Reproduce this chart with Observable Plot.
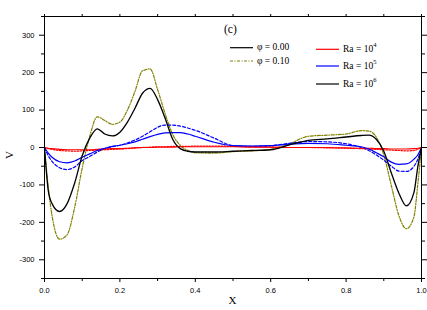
<!DOCTYPE html>
<html>
<head>
<meta charset="utf-8">
<script src="https://cdn.jsdelivr.net/npm/d3@7"></script>
<script src="https://cdn.jsdelivr.net/npm/@observablehq/plot@0.6"></script>
<style>
  body { margin: 0; background: white; }
  #wrap { position: relative; width: 427px; height: 310px; overflow: hidden; background: white; }
  #wrap > svg.overlay { position: absolute; left: 0; top: 0; }
</style>
</head>
<body>
<div id="wrap"></div>
<script>
// X positions (shared by all series)
const xs = [0,0.01,0.02,0.04,0.06,0.08,0.1,0.12,0.14,0.16,0.18,0.2,0.22,0.24,0.26,0.28,0.3,0.32,0.34,0.36,0.38,0.4,0.45,0.5,0.55,0.6,0.65,0.7,0.75,0.8,0.84,0.86,0.88,0.9,0.92,0.94,0.96,0.98,0.99,1];

// V values
const ra6phi0 = [0,-115,-150,-171,-150,-95,-22,25,50,36,31,41,68,105,145,158,128,78,22,-3,-10,-12,-12,-10,-8,-6,7,19,23,28,32,33,22,-10,-68,-122,-156,-120,-53,0];
const ra6phi1 = [0,-106,-182,-245,-233,-160,-55,30,82,72,62,68,100,150,205,210,155,90,35,6,-8,-14,-15,-11,-9,-5,10,30,33,36,45,44,28,-20,-102,-182,-217,-185,-100,0];
const ra5phi0 = [0,-15,-26,-38,-41,-36,-26,-17,-8,-2,3,6,10,15,22,29,35,39,40,40,36,30,14,5,4,5,9,11,10,6,2,-4,-14,-25,-39,-45,-44,-31,-20,0];
const ra5phi1 = [0,-22,-37,-54,-59,-52,-35,-24,-12,-3,2,6,12,20,30,42,54,60,60,57,52,46,25,5,3,5,11,16,15,10,0,-8,-20,-34,-50,-63,-64,-50,-32,0];
const ra4phi0 = [0,-2,-3,-5,-6,-6,-6,-6,-5,-4,-3,-3,-2,-1,0,0,1,1,1,2,2,2,2,2,1,1,0,0,0,-1,-2,-2,-3,-3,-4,-4,-4,-3,-2,0];
const ra4phi1 = [0,-3,-5,-8,-9,-10,-9,-8,-7,-6,-5,-4,-3,-1,0,1,2,2,3,3,3,4,4,3,2,1,0,0,-1,-2,-3,-4,-5,-6,-7,-8,-9,-8,-5,0];

// Tick values
const yMajor = [-300,-200,-100,0,100,200,300];
const yMinor = [-350,-250,-150,-50,50,150,250,350];
const xMajor = [0,0.2,0.4,0.6,0.8,1.0];
const xMinor = [0.1,0.3,0.5,0.7,0.9];
const xAll = [0,0.1,0.2,0.3,0.4,0.5,0.6,0.7,0.8,0.9,1.0];

const series = [
  {v: ra6phi1, stroke: "#808000", dash: "3,1.5,1,1.5", width: 1.2},
  {v: ra5phi1, stroke: "#0000ff", dash: "3,2", width: 1.2},
  {v: ra4phi1, stroke: "#ff0000", dash: "1.5,1.5", width: 1.2},
  {v: ra4phi0, stroke: "#ff0000", dash: null, width: 1.2},
  {v: ra5phi0, stroke: "#0000ff", dash: null, width: 1.2},
  {v: ra6phi0, stroke: "#000000", dash: null, width: 1.3}
];

const lineMarks = series.map(s => Plot.line(xs.map((x, i) => ({x, y: s.v[i]})), {
  x: "x", y: "y", stroke: s.stroke, strokeWidth: s.width,
  strokeDasharray: s.dash, curve: "monotone-x"
}));

const tickFont = {fontSize: 7.5, fontFamily: "Liberation Sans, Arial, sans-serif"};

const chart = Plot.plot({
  width: 427, height: 310,
  marginLeft: 44, marginRight: 6, marginTop: 16, marginBottom: 32,
  style: {fontFamily: "Liberation Sans, Arial, sans-serif", fontSize: "7.5px", background: "white", color: "black", overflow: "visible"},
  x: {domain: [0, 1]},
  y: {domain: [-350, 350]},
  marks: [
    ...lineMarks,
    Plot.frame({stroke: "black", strokeWidth: 1}),
    Plot.axisY(yMajor, {anchor: "left", tickSize: 5, tickPadding: 5, tickFormat: d => String(d), label: null, ...tickFont}),
    Plot.axisY(yMinor, {anchor: "left", tickSize: 3, tickFormat: () => "", label: null}),
    Plot.axisY(yMajor, {anchor: "right", tickSize: 5, tickFormat: () => "", label: null}),
    Plot.axisY(yMinor, {anchor: "right", tickSize: 3, tickFormat: () => "", label: null}),
    Plot.axisX(xMajor, {anchor: "bottom", tickSize: 4, tickPadding: 5, tickFormat: d3.format(".1f"), label: null, ...tickFont}),
    Plot.axisX(xMinor, {anchor: "bottom", tickSize: 3, tickFormat: () => "", label: null}),
    Plot.axisX(xAll, {anchor: "top", tickSize: 3, tickFormat: () => "", label: null})
  ]
});

const wrap = document.getElementById("wrap");
wrap.appendChild(chart);

// Overlay: axis titles, panel label and legend
const ns = "http://www.w3.org/2000/svg";
const ov = document.createElementNS(ns, "svg");
ov.setAttribute("class", "overlay");
ov.setAttribute("width", 427);
ov.setAttribute("height", 310);
function txt(x, y, s, size, extra) {
  const t = document.createElementNS(ns, "text");
  t.setAttribute("x", x); t.setAttribute("y", y);
  t.setAttribute("font-family", "Liberation Serif, DejaVu Serif, serif");
  t.setAttribute("font-size", size);
  if (extra) for (const k in extra) t.setAttribute(k, extra[k]);
  t.innerHTML = s;
  ov.appendChild(t);
  return t;
}
function ln(x1, x2, y, stroke, dash) {
  const l = document.createElementNS(ns, "line");
  l.setAttribute("x1", x1); l.setAttribute("x2", x2);
  l.setAttribute("y1", y); l.setAttribute("y2", y);
  l.setAttribute("stroke", stroke); l.setAttribute("stroke-width", 1.2);
  if (dash) l.setAttribute("stroke-dasharray", dash);
  ov.appendChild(l);
}
txt(232.5, 304, "X", 11, {"text-anchor": "middle"});
txt(0, 0, "V", 11, {"text-anchor": "middle", transform: "translate(13,155) rotate(-90)"});
txt(224, 33, "(c)", 11.5);

const phiLabels = ["φ = 0.00", "φ = 0.10"];
const phiStyles = [{stroke: "#000", dash: null}, {stroke: "#808000", dash: "3,1.5,1,1.5"}];
const raExp = ["4", "5", "6"];
const raColors = ["#ff0000", "#0000ff", "#000000"];
[47.7, 61].forEach((y, i) => {
  ln(230, 253, y, phiStyles[i].stroke, phiStyles[i].dash);
  txt(257, y + 2.6, phiLabels[i], 9.5);
});
[49.3, 66, 84].forEach((y, i) => {
  ln(316, 339, y, raColors[i], null);
  txt(343, y + 2.6, `Ra =  10<tspan font-size="6.5" dy="-5">${raExp[i]}</tspan>`, 9.5);
});
wrap.appendChild(ov);
</script>
</body>
</html>
